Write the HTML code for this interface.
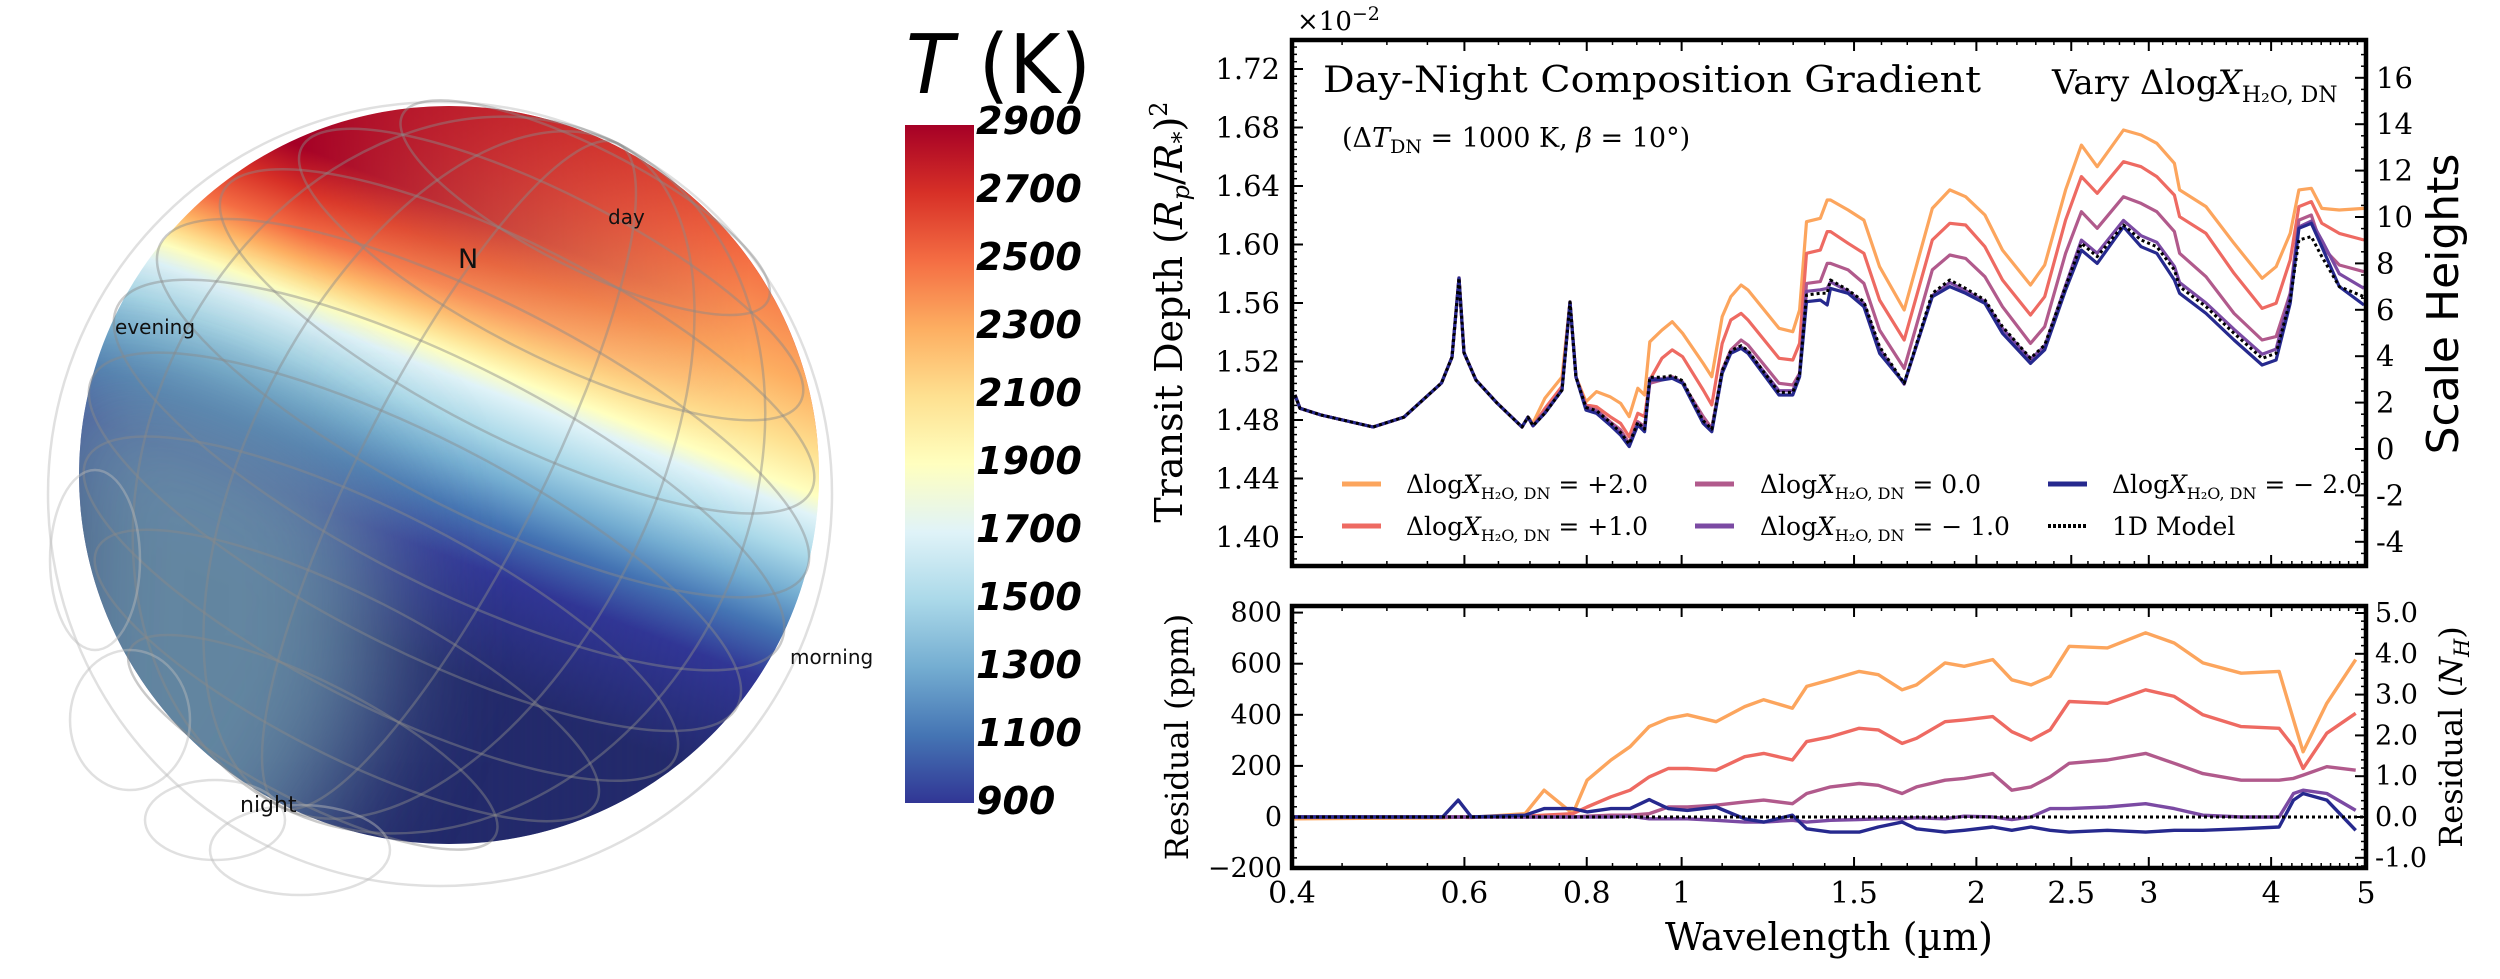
<!DOCTYPE html>
<html><head><meta charset="utf-8"><style>
html,body{margin:0;padding:0;background:#fff;width:2500px;height:979px;overflow:hidden}
svg{display:block}
.serif{font-family:"DejaVu Serif","Liberation Serif",serif}
.sans{font-family:"DejaVu Sans","Liberation Sans",sans-serif}
</style></head><body>
<svg id="fig" width="2500" height="979" viewBox="0 0 2500 979" xmlns="http://www.w3.org/2000/svg">
<defs>
<clipPath id="sph"><ellipse cx="449" cy="475" rx="370" ry="369"/></clipPath>
<linearGradient id="tgA" gradientUnits="userSpaceOnUse" x1="309" y1="-129" x2="21" y2="617">
<stop offset="0.325" stop-color="#a50026"/><stop offset="0.375" stop-color="#d73027"/><stop offset="0.425" stop-color="#f46d43"/>
<stop offset="0.456" stop-color="#fdae61"/><stop offset="0.481" stop-color="#fee090"/><stop offset="0.5" stop-color="#ffffbf"/>
<stop offset="0.525" stop-color="#e0f3f8"/><stop offset="0.575" stop-color="#abd9e9"/><stop offset="0.625" stop-color="#74add1"/>
<stop offset="0.675" stop-color="#4575b4"/><stop offset="0.7375" stop-color="#313695"/><stop offset="0.875" stop-color="#232a6b"/>
</linearGradient>
<linearGradient id="tgB" gradientUnits="userSpaceOnUse" x1="309" y1="-129" x2="21" y2="617">
<stop offset="0.025" stop-color="#a50026"/><stop offset="0.125" stop-color="#d73027"/><stop offset="0.25" stop-color="#f46d43"/>
<stop offset="0.375" stop-color="#fdae61"/><stop offset="0.45" stop-color="#fee090"/><stop offset="0.5" stop-color="#ffffbf"/>
<stop offset="0.525" stop-color="#e0f3f8"/><stop offset="0.575" stop-color="#abd9e9"/><stop offset="0.625" stop-color="#74add1"/>
<stop offset="0.675" stop-color="#4575b4"/><stop offset="0.7375" stop-color="#313695"/><stop offset="0.875" stop-color="#232a6b"/>
</linearGradient>
<linearGradient id="maskG" gradientUnits="userSpaceOnUse" x1="300" y1="0" x2="750" y2="0">
<stop offset="0" stop-color="#000"/><stop offset="1" stop-color="#fff"/>
</linearGradient>
<mask id="rightMask"><rect x="0" y="0" width="900" height="979" fill="url(#maskG)"/></mask>
<linearGradient id="cbg" x1="0" y1="0" x2="0" y2="1">
<stop offset="0" stop-color="#a50026"/><stop offset="0.1" stop-color="#d73027"/><stop offset="0.2" stop-color="#f46d43"/>
<stop offset="0.3" stop-color="#fdae61"/><stop offset="0.4" stop-color="#fee090"/><stop offset="0.5" stop-color="#ffffbf"/>
<stop offset="0.6" stop-color="#e0f3f8"/><stop offset="0.7" stop-color="#abd9e9"/><stop offset="0.8" stop-color="#74add1"/>
<stop offset="0.9" stop-color="#4575b4"/><stop offset="1" stop-color="#313695"/>
</linearGradient>
<filter id="blur40" x="-50%" y="-50%" width="200%" height="200%"><feGaussianBlur stdDeviation="60"/></filter>
</defs>

<g>
  <g clip-path="url(#sph)">
    <rect x="70" y="100" width="760" height="760" fill="url(#tgA)"/>
    <rect x="70" y="100" width="760" height="760" fill="url(#tgB)" mask="url(#rightMask)"/>
    <polygon points="40,340 250,390 380,480 380,700 260,900 20,900" fill="#6e96aa" opacity="0.85" filter="url(#blur40)"/>
  </g>
  <g fill="none" stroke="#8a8a8a" stroke-opacity="0.45" stroke-width="2.5">
    <ellipse cx="440" cy="494" rx="392" ry="392" stroke="#bbb"/>
    <g transform="rotate(27 449 475)">
      <ellipse cx="449" cy="175" rx="205" ry="60"/>
      <ellipse cx="449" cy="250" rx="280" ry="80"/>
      <ellipse cx="449" cy="325" rx="330" ry="95"/>
      <ellipse cx="449" cy="400" rx="362" ry="105"/>
      <ellipse cx="449" cy="475" rx="372" ry="110"/>
      <ellipse cx="449" cy="550" rx="362" ry="105"/>
      <ellipse cx="449" cy="625" rx="330" ry="95"/>
      <ellipse cx="449" cy="700" rx="280" ry="80"/>
      <ellipse cx="449" cy="775" rx="205" ry="60"/>
      <ellipse cx="449" cy="475" rx="90" ry="372"/>
      <ellipse cx="449" cy="475" rx="200" ry="372"/>
      <ellipse cx="449" cy="475" rx="300" ry="372"/>
    </g>
    <ellipse cx="215" cy="820" rx="70" ry="40" stroke="#bbb"/>
    <ellipse cx="300" cy="850" rx="90" ry="45" stroke="#bbb"/>
    <ellipse cx="130" cy="720" rx="60" ry="70" stroke="#bbb"/>
    <ellipse cx="95" cy="560" rx="45" ry="90" stroke="#bbb"/>
  </g>
  <text x="458" y="268" class="sans" font-size="27" fill="#111">N</text>
  <text x="608" y="224" class="sans" font-size="20" fill="#111">day</text>
  <text x="115" y="334" class="sans" font-size="20" fill="#111">evening</text>
  <text x="790" y="664" class="sans" font-size="20" fill="#111">morning</text>
  <text x="240" y="812" class="sans" font-size="22" fill="#111">night</text>
</g>

<g>
  <rect x="905" y="125" width="69" height="678" fill="url(#cbg)"/>
  <text x="906" y="93" class="sans" font-size="82" fill="#000" textLength="185" lengthAdjust="spacingAndGlyphs"><tspan font-style="italic">T</tspan> (K)</text>
  <g id="cbticks" class="sans" font-size="38" font-weight="bold" font-style="italic" fill="#000"></g>
</g>

<g id="topChart"></g>
<g id="botChart"></g>
</svg>

<script>
// ---- Colorbar data ----
const cbLabels = ["2900","2700","2500","2300","2100","1900","1700","1500","1300","1100","900"];

// ---- Top chart data (transit depth, units of 1e-2) ----
const wl = [0.4028,0.4076,0.4282,0.484,0.5205,0.5685,0.5828,0.5924,0.5994,0.6166,0.6478,0.687,0.6968,0.7051,0.7252,0.7548,0.7691,0.78,
0.7986,0.8186,0.845,0.8664,0.884,0.902,0.9167,0.9278,0.9547,0.978,1.0023,1.052,1.0736,1.1001,1.1226,1.1502,1.169,1.2574,1.2989,1.3197,1.3412,1.3856,1.4082,
1.4192,1.4792,1.5352,1.5928,1.6878,1.8031,1.8788,1.95,2.0406,2.1268,2.2716,2.3484,2.4672,2.5604,2.6572,2.8268,2.946,3.0568,3.186,3.2256,3.432,3.666,3.916,4.047,4.184,4.27,4.396,4.506,4.696,4.976];
const depthPlus2 = [1.4971,1.488,1.4834,1.4752,1.482,1.5053,1.523,1.5771,1.526,1.5073,1.4916,1.4752,1.482,1.478,1.495,1.5094,1.5607,1.5094,
1.4925,1.4994,1.4959,1.4914,1.4823,1.5017,1.4971,1.5335,1.5415,1.5472,1.5393,1.5187,1.5096,1.5507,1.5643,1.5723,1.5689,1.5427,1.5404,1.5552,1.6156,1.6179,1.6304,
1.6304,1.6236,1.6167,1.5848,1.5552,1.6247,1.6373,1.6327,1.6202,1.5962,1.5723,1.586,1.6373,1.668,1.6532,1.6783,1.6749,1.6692,1.6555,1.6373,1.6259,1.6008,1.5769,1.5848,1.6076,1.6373,1.6384,1.6247,1.6236,1.6247];
const depthPlus1 = [1.4971,1.488,1.4834,1.4752,1.482,1.5053,1.523,1.5771,1.526,1.5073,1.4916,1.4752,1.482,1.476,1.488,1.503,1.5607,1.5094,
1.4903,1.4891,1.4823,1.4777,1.4686,1.4846,1.4823,1.5074,1.5222,1.5279,1.5233,1.5005,1.4903,1.5324,1.5484,1.5529,1.5484,1.5222,1.521,1.5324,1.594,1.5962,1.6088,
1.6088,1.6008,1.594,1.562,1.5347,1.6031,1.6145,1.6133,1.5985,1.5757,1.5518,1.5643,1.6167,1.6464,1.635,1.6566,1.6532,1.6464,1.6338,1.619,1.6076,1.5803,1.5563,1.5598,1.5894,1.6259,1.6293,1.6145,1.6076,1.6031];
const depthZero = [1.4971,1.488,1.4834,1.4752,1.482,1.5053,1.523,1.5771,1.526,1.5073,1.4916,1.4752,1.482,1.476,1.486,1.5005,1.5607,1.5094,
1.4891,1.4868,1.4789,1.4732,1.4641,1.4789,1.4754,1.5051,1.5074,1.5096,1.5051,1.4823,1.4743,1.5142,1.5279,1.5347,1.5313,1.5051,1.5039,1.5119,1.5734,1.5746,1.5871,
1.5871,1.5826,1.5734,1.5415,1.5153,1.5826,1.5928,1.5905,1.578,1.5575,1.5324,1.5438,1.594,1.6224,1.6111,1.6327,1.6281,1.6224,1.6088,1.594,1.578,1.5529,1.5347,1.537,1.5666,1.6167,1.6202,1.5985,1.586,1.5814];
const depthMinus1 = [1.4971,1.488,1.4834,1.4752,1.482,1.5053,1.523,1.5771,1.526,1.5073,1.4916,1.4752,1.482,1.476,1.4848,1.5005,1.5607,1.5094,
1.488,1.4858,1.4778,1.471,1.463,1.4778,1.4732,1.5085,1.508,1.509,1.506,1.4785,1.4728,1.5128,1.5265,1.53,1.5268,1.5,1.5,1.5115,1.568,1.569,1.57,
1.5745,1.568,1.5598,1.5285,1.5045,1.565,1.574,1.5685,1.561,1.5425,1.5215,1.5305,1.572,1.603,1.594,1.6165,1.606,1.6015,1.585,1.574,1.56,1.542,1.525,1.5285,1.566,1.612,1.616,1.603,1.58,1.57];
const depthMinus2 = [1.4971,1.488,1.4834,1.4752,1.482,1.5053,1.523,1.5771,1.526,1.5073,1.4916,1.4752,1.482,1.476,1.4848,1.5005,1.5607,1.5094,
1.4868,1.4846,1.4766,1.4697,1.4618,1.4766,1.472,1.5074,1.5074,1.5085,1.5051,1.4777,1.472,1.5119,1.5256,1.529,1.5256,1.4971,1.4971,1.5096,1.5609,1.562,1.5586,
1.57,1.5666,1.5575,1.5256,1.5051,1.5643,1.5712,1.5666,1.5598,1.5393,1.5187,1.5279,1.5689,1.5962,1.5871,1.6122,1.5985,1.594,1.5757,1.5666,1.5529,1.5347,1.5176,1.521,1.5598,1.6111,1.6145,1.5985,1.5712,1.5586];
const depth1D = [1.4971,1.488,1.4834,1.4752,1.482,1.5053,1.523,1.5771,1.526,1.5073,1.4916,1.4752,1.482,1.476,1.4848,1.5005,1.5607,1.5094,
1.4886,1.4864,1.4784,1.4715,1.4636,1.4784,1.4738,1.5092,1.5092,1.5103,1.5069,1.4795,1.4738,1.5137,1.5274,1.5308,1.5274,1.4989,1.4989,1.5114,1.5655,1.5666,1.5666,
1.5757,1.5689,1.5609,1.5301,1.5051,1.5666,1.5757,1.57,1.5621,1.5438,1.5222,1.5313,1.5712,1.6008,1.5917,1.6133,1.6031,1.5985,1.5826,1.5712,1.5575,1.5393,1.5222,1.5256,1.5621,1.6031,1.6054,1.5917,1.5712,1.5643];

// ---- Bottom chart data (residual, ppm) ----
const wlRes = [0.4,0.57,0.5913,0.61,0.692,0.7237,0.7742,0.8007,0.847,0.8859,0.9266,0.9692,1.0137,1.0843,1.1598,1.213,1.2976,1.342,1.4192,1.5184,1.588,1.6796,1.7372,1.8584,1.9436,2.0784,2.174,2.2744,2.3788,2.488,2.722,2.9776,3.1848,3.4072,3.728,4.076,4.216,4.312,4.56,4.88];
const resPlus2 = [-7,-3,0,-2,13,105,13,144,223,275,354,386,400,373,432,459,426,511,537,570,557,498,517,603,590,616,537,517,550,668,662,721,681,603,563,570,380,255,445,616];
const resPlus1 = [0,0,0,0,3,7,13,39,79,105,157,190,190,183,236,249,223,295,314,347,341,288,308,373,380,393,334,301,341,452,445,498,472,400,354,347,275,190,328,406];
const resZero = [0,0,0,0,0,0,0,3,7,7,13,39,39,46,59,66,52,92,118,131,124,92,118,144,151,170,105,118,157,210,223,249,210,170,144,144,151,164,197,183];
const resMinus1 = [0,0,0,0,0,0,0,0,0,3,-7,-7,-7,-13,-20,-20,-13,-20,-13,-10,-7,-7,-3,-7,3,0,-10,0,33,33,39,52,33,7,0,0,92,105,92,26];
const resMinus2 = [0,0,66,0,7,33,33,20,33,33,68,33,26,39,-7,-20,7,-46,-59,-59,-39,-20,-46,-59,-52,-39,-52,-39,-52,-59,-52,-59,-52,-52,-46,-39,66,92,66,-52];
const res1D = [0,0];
const wl1D = [0.4,5.0];

// ---- Tick data ----
const xMajor = [0.4,0.6,0.8,1,1.5,2,2.5,3,4,5];
const xMajorLabels = ["0.4","0.6","0.8","1","1.5","2","2.5","3","4","5"];
const yTopTicks = [1.72,1.68,1.64,1.60,1.56,1.52,1.48,1.44,1.40];
const yTopLabels = ["1.72","1.68","1.64","1.60","1.56","1.52","1.48","1.44","1.40"];
const shTicks = [16,14,12,10,8,6,4,2,0,-2,-4];
const shLabels = ["16","14","12","10","8","6","4","2","0","-2","-4"];
const resTicks = [800,600,400,200,0,-200];
const resLabels = ["800","600","400","200","0","\u2212200"];
const nhTicks = [5,4,3,2,1,0,-1];
const nhLabels = ["5.0","4.0","3.0","2.0","1.0","0.0","-1.0"];

const NS = "http://www.w3.org/2000/svg";
function mk(tag, parent){ const e=document.createElementNS(NS,tag); parent.appendChild(e); return e; }

// colorbar labels
const cbg = document.getElementById('cbticks');
cbLabels.forEach((t,i)=>{
  const e = mk('text', cbg);
  e.setAttribute('x', 976); e.setAttribute('y', 134 + i*68);
  e.textContent = t;
  
  
});

// ---- axes ----
const XL=1292, XR=2366;
function xs(l){ return XL + (XR-XL)*Math.log(l/0.4)/Math.log(12.5); }
const TT=40, TB=566;
function yT(v){ return 69 + (1.72 - v)*1462.5; }
function ySH(s){ return 449 - s*23.2; }
const BT=606, BB=868;
function yB(p){ return 817 - p*0.2555; }
function yNH(n){ return 817 - n*40.8; }

const topG = document.getElementById('topChart');


const botG = document.getElementById('botChart');



function line(p, x1,y1,x2,y2, w, name){
  const e = mk('line', p);
  e.setAttribute('x1',x1); e.setAttribute('y1',y1); e.setAttribute('x2',x2); e.setAttribute('y2',y2);
  e.setAttribute('stroke','#000'); e.setAttribute('stroke-width',w);
  
  
  return e;
}
function txt(p, x, y, s, size, anchor, name){
  const e = mk('text', p);
  e.setAttribute('x',x); e.setAttribute('y',y); e.setAttribute('font-size',size);
  e.setAttribute('text-anchor',anchor); e.setAttribute('class','serif');
  e.textContent = s;
  
  
  return e;
}

function xTicks(p, T, B){
  const minors=[];
  for(let v=0.45; v<0.999; v+=0.05) minors.push(+v.toFixed(2));
  for(let v=1.1; v<4.95; v+=0.1) minors.push(+v.toFixed(1));
  minors.forEach(v=>{ if(xMajor.indexOf(v)>=0) return;
    line(p, xs(v),B, xs(v),B-5, 1.5, 'x-minor-tick');
    line(p, xs(v),T, xs(v),T+5, 1.5, 'x-minor-tick'); });
  xMajor.forEach(v=>{
    line(p, xs(v),B, xs(v),B-11, 2, 'x-major-tick');
    line(p, xs(v),T, xs(v),T+11, 2, 'x-major-tick'); });
}
function frame(p, T, B, name){
  const r = mk('rect', p);
  r.setAttribute('x',XL); r.setAttribute('y',T); r.setAttribute('width',XR-XL); r.setAttribute('height',B-T);
  r.setAttribute('fill','none'); r.setAttribute('stroke','#000'); r.setAttribute('stroke-width',4.5);
  
  
}
function series(p, xsArr, ys, yfn, color, w, dash, name){
  const e = mk('polyline', p);
  e.setAttribute('points', xsArr.map((l,i)=> xs(l).toFixed(1)+','+yfn(ys[i]).toFixed(1)).join(' '));
  e.setAttribute('fill','none'); e.setAttribute('stroke',color); e.setAttribute('stroke-width',w);
  e.setAttribute('stroke-linejoin','round');
  if(dash) e.setAttribute('stroke-dasharray',dash);
  
  
}

const C = {p2:"#fca55d", p1:"#ee6a62", z:"#b15a8c", m1:"#7b4aa3", m2:"#26298e"};

// ---- TOP CHART ----
xTicks(topG, TT, TB);
for(let v=1.385; v<1.74; v+=0.005){
  const y=yT(v); if(y<TT+2||y>TB-2) continue;
  line(topG, XL,y, XL+5,y, 1.5, 'y-minor-tick');
}
yTopTicks.forEach((v,i)=>{
  line(topG, XL,yT(v), XL+11,yT(v), 2, 'y-major-tick');
  txt(topG, 1280, yT(v)+10, yTopLabels[i], 29, 'end', 'y-tick-label');
});
for(let s=-5; s<=17; s+=0.5){
  const y=ySH(s); if(y<TT+2||y>TB-2) continue;
  const major = Math.abs(s%2)<1e-9;
  line(topG, XR,y, XR-(major?11:5),y, major?2:1.5, major?'right-major-tick':'right-minor-tick');
}
shTicks.forEach((s,i)=> txt(topG, 2376, ySH(s)+10, shLabels[i], 29, 'start', 'scale-height-tick-label'));

series(topG, wl, depthPlus2, yT, C.p2, 3.2, null, 'line-plus-2');
series(topG, wl, depthPlus1, yT, C.p1, 3.2, null, 'line-plus-1');
series(topG, wl, depthZero, yT, C.z, 3.2, null, 'line-zero');
series(topG, wl, depthMinus1, yT, C.m1, 3.2, null, 'line-minus-1');
series(topG, wl, depthMinus2, yT, C.m2, 3.2, null, 'line-minus-2');
series(topG, wl, depth1D, yT, "#000", 3, "3,3", 'line-1d-model');
frame(topG, TT, TB, 'top-plot-frame');

const off = txt(topG, 1297, 30, "", 26, 'start', 'y-offset-label');
off.innerHTML = '\u00d710<tspan dy="-10" font-size="19">\u22122</tspan>';
const t1 = txt(topG, 1323, 92, "Day-Night Composition Gradient", 36, 'start', 'chart-title');
t1.setAttribute('textLength', 658); t1.setAttribute('lengthAdjust','spacingAndGlyphs');
const t2 = txt(topG, 1342, 147, "", 27, 'start', 'chart-subtitle');
t2.innerHTML = '(\u0394<tspan font-style="italic">T</tspan><tspan dy="6" font-size="19">DN</tspan><tspan dy="-6"> = 1000 K, </tspan><tspan font-style="italic">\u03b2</tspan> = 10\u00b0)';
const t3 = txt(topG, 2052, 94, "", 34, 'start', 'vary-label');
t3.innerHTML = 'Vary \u0394log<tspan font-style="italic">X</tspan><tspan dy="8" font-size="22">H\u2082O, DN</tspan>';

const yl = txt(topG, 0, 0, "", 38, 'middle', 'y-axis-title');
yl.setAttribute('transform','translate(1182,312) rotate(-90)');
yl.innerHTML = 'Transit Depth (<tspan font-style="italic">R</tspan><tspan dy="7" font-size="24" font-style="italic">p</tspan><tspan dy="-7">/</tspan><tspan font-style="italic">R</tspan><tspan dy="7" font-size="24">*</tspan><tspan dy="-7">)</tspan><tspan dy="-15" font-size="24">2</tspan>';
const yr = txt(topG, 0, 0, "Scale Heights", 44, 'middle', 'right-axis-title');
yr.setAttribute('class','sans');
yr.setAttribute('transform','translate(2458,304) rotate(-90)');

// legend
const legRows = [484, 526];
const legItems = [
  {c:C.p2, col:0,row:0, lab:'= +2.0', d:null, n:'legend-entry-plus-2'},
  {c:C.p1, col:0,row:1, lab:'= +1.0', d:null, n:'legend-entry-plus-1'},
  {c:C.z,  col:1,row:0, lab:'= 0.0', d:null, n:'legend-entry-zero'},
  {c:C.m1, col:1,row:1, lab:'= \u2212 1.0', d:null, n:'legend-entry-minus-1'},
  {c:C.m2, col:2,row:0, lab:'= \u2212 2.0', d:null, n:'legend-entry-minus-2'},
  {c:"#000",col:2,row:1, lab:null, d:"3,2", n:'legend-entry-1d-model'}
];
const legLineX=[1342,1695,2048], legTextX=[1406,1760,2112];
legItems.forEach(it=>{
  const y = legRows[it.row];
  const g = mk('g', topG);
  
  
  const l = mk('line', g);
  l.setAttribute('x1',legLineX[it.col]); l.setAttribute('x2',legLineX[it.col]+39);
  l.setAttribute('y1',y); l.setAttribute('y2',y);
  l.setAttribute('stroke',it.c); l.setAttribute('stroke-width',it.d?4:5);
  if(it.d) l.setAttribute('stroke-dasharray',it.d);
  
  
  const t = txt(g, legTextX[it.col], y+9, "", 25, 'start', 'legend-label');
  if(it.lab) t.innerHTML = '\u0394log<tspan font-style="italic">X</tspan><tspan dy="6" font-size="16">H\u2082O, DN</tspan><tspan dy="-6"> '+it.lab+'</tspan>';
  else t.textContent = '1D Model';
});

// ---- BOTTOM CHART ----
xTicks(botG, BT, BB);
for(let v=-200; v<=840; v+=40){
  const y=yB(v); if(y<BT+2||y>BB-2) continue;
  const major = v%200===0;
  line(botG, XL,y, XL+(major?11:5),y, major?2:1.5, major?'y-major-tick':'y-minor-tick');
}
resTicks.forEach((v,i)=> txt(botG, 1282, yB(v)+9, resLabels[i], 27, 'end', 'residual-tick-label'));
for(let n=-1.2; n<=5.2; n+=0.2){
  const y=yNH(n); if(y<BT+2||y>BB-2) continue;
  const major = Math.abs(n-Math.round(n))<1e-6;
  line(botG, XR,y, XR-(major?11:5),y, major?2:1.5, major?'right-major-tick':'right-minor-tick');
}
nhTicks.forEach((n,i)=> txt(botG, 2375, yNH(n)+9, nhLabels[i], 27, 'start', 'nh-tick-label'));

series(botG, wlRes, resPlus2, yB, C.p2, 3.4, null, 'residual-plus-2');
series(botG, wlRes, resPlus1, yB, C.p1, 3.4, null, 'residual-plus-1');
series(botG, wlRes, resZero, yB, C.z, 3.4, null, 'residual-zero');
series(botG, wlRes, resMinus1, yB, C.m1, 3.4, null, 'residual-minus-1');
series(botG, wlRes, resMinus2, yB, C.m2, 3.4, null, 'residual-minus-2');
series(botG, wl1D, res1D, yB, "#000", 3, "3,3", 'residual-1d-model');
frame(botG, BT, BB, 'bottom-plot-frame');

xMajor.forEach((v,i)=> txt(botG, xs(v), 903, xMajorLabels[i], 30, 'middle', 'x-tick-label'));
txt(botG, 1829, 950, "Wavelength (\u00b5m)", 38, 'middle', 'x-axis-title');
const rl = txt(botG, 0, 0, "Residual (ppm)", 32, 'middle', 'residual-axis-title');
rl.setAttribute('transform','translate(1188,737) rotate(-90)');
const rr = txt(botG, 0, 0, "", 32, 'middle', 'residual-nh-axis-title');
rr.setAttribute('transform','translate(2462,737) rotate(-90)');
rr.innerHTML = 'Residual (<tspan font-style="italic">N</tspan><tspan dy="7" font-size="21" font-style="italic">H</tspan><tspan dy="-7">)</tspan>';
</script>
</body></html>
